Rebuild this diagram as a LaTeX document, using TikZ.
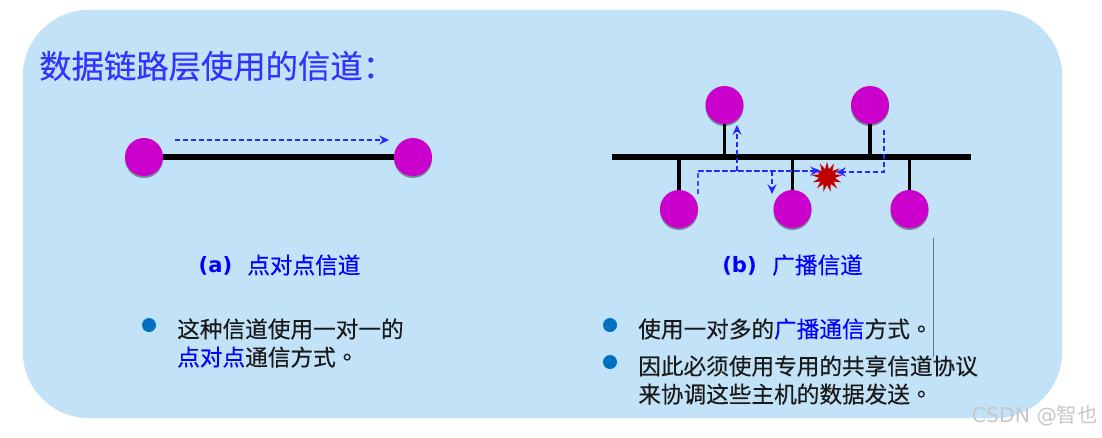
\documentclass[tikz,border=0pt]{standalone}
\usepackage{xcolor}
\usepackage{fontspec}
\usetikzlibrary{arrows.meta,positioning,shadows,shapes.geometric}
\setmainfont{DejaVu Sans}
\newfontfamily\cjk[FakeBold=0.25]{Noto Sans CJK SC}
\newfontfamily\cjkmark{Noto Sans CJK SC}
\newfontfamily\cjktc[FakeBold=0.25]{Noto Sans CJK TC}
\definecolor{panelblue}{HTML}{C2E2F8}
\definecolor{titleblue}{HTML}{3333FF}
\definecolor{linkblue}{HTML}{0000FF}
\definecolor{hostpink}{HTML}{CC00CC}
\definecolor{bulletblue}{HTML}{0070C0}
\definecolor{burstred}{HTML}{C00000}
\tikzset{
  host/.style={circle,fill=hostpink,minimum size=0.95cm,inner sep=0pt,drop shadow={shadow xshift=0pt,shadow yshift=-1.4pt,fill=black,opacity=0.4}},
  stem/.style={black,line width=2.3pt},
  busline/.style={black,line width=4.2pt},
  signal/.style={-{Stealth[length=7pt,width=6.5pt,inset=2.5pt]},linkblue!85,line width=0.9pt,dash pattern=on 3.5pt off 2.2pt},
  plainsignal/.style={linkblue!70,line width=0.9pt,dash pattern=on 3.5pt off 2.2pt},
  bullet/.style={circle,fill=bulletblue,minimum size=0.35cm,inner sep=0pt},
  bodytext/.style={anchor=west,align=left,inner sep=0pt,text=black!90,font=\cjk\fontsize{16.1}{20}\selectfont},
  captext/.style={inner sep=0pt,text=linkblue,font=\cjk\fontsize{16.1}{20}\selectfont}
}
\begin{document}
\begin{tikzpicture}[x=0.025cm,y=-0.025cm]
\useasboundingbox (0,0) rectangle (1102,437);
\node[rectangle,rounded corners=1.65cm,fill=panelblue,minimum width=25.975cm,minimum height=10.2cm,inner sep=0pt] (panel) at (542.5,214) {};
\node[anchor=west,inner sep=0pt,text=titleblue,font=\cjk\fontsize{23}{28}\selectfont] (title) at (39,66) {数据链路层使用的信道：};
% point to point
\node[host] (pa) at (144,157) {};
\node[host] (pb) at (413,157) {};
\draw[busline] (pa) -- (pb);
\coordinate (pfrom) at (175,140);
\coordinate (pto) at (389,140);
\draw[signal] (pfrom) -- (pto);
% broadcast
\coordinate (busl) at (612,157);
\coordinate (busr) at (971,157);
\node[host] (ta) at (724.5,105) {};
\node[host] (tb) at (870,105) {};
\node[host] (ba) at (679,209) {};
\node[host] (bb) at (792.5,209) {};
\node[host] (bc) at (909.5,209) {};
\draw[stem] (ta) -- (ta |- busl);
\draw[stem] (tb) -- (tb |- busl);
\draw[stem] (ba) -- (ba |- busl);
\draw[stem] (bb) -- (bb |- busl);
\draw[stem] (bc) -- (bc |- busl);
\draw[busline] (busl) -- (busr);
\node[star,star points=13,star point ratio=1.9,minimum size=0.76cm,inner sep=0pt,fill=burstred] (burst) at (827,177) {};
\coordinate (senda) at (698,194);
\coordinate (benda) at (698,171);
\coordinate (hita) at (820,171);
\coordinate (upa) at (737,125);
\coordinate (downa) at (772,194);
\coordinate (sendb) at (884,130);
\coordinate (bendb) at (884,172);
\coordinate (hitb) at (836,172);
\draw[plainsignal] (senda) -- (benda) -- (hita);
\draw[signal] (benda) -- (hita);
\draw[signal] (upa |- benda) -- (upa);
\draw[signal] (downa |- benda) -- (downa);
\draw[signal] (sendb) -- (bendb) -- (hitb);
% captions
\node[inner sep=0pt,text=linkblue,font=\bfseries\fontsize{15}{18}\selectfont] (capa) at (215.5,265.5) {(a)};
\node[captext,anchor=west] (capatext) at (247,265) {点对点信道};
\node[inner sep=0pt,text=linkblue,font=\bfseries\fontsize{15}{18}\selectfont] (capb) at (739.5,265.5) {(b)};
\node[captext,anchor=west] (capbtext) at (772,265) {广播信道};
% notes
\node[bullet] (nla) at (149,325) {};
\node[bodytext] (tla) at (177,343) {这种信道使用一对一的\\{\color{linkblue}点对点}通信方式{\cjktc 。}};
\node[bullet] (nra) at (610,325) {};
\node[bodytext] (tra) at (638,329) {使用一对多的{\color{linkblue}广播通信}方式{\cjktc 。}};
\node[bullet] (nrb) at (610,362) {};
\node[bodytext] (trb) at (638,380) {因此必须使用专用的共享信道协议\\来协调这些主机的数据发送{\cjktc 。}};
\coordinate (marka) at (933.5,238);
\coordinate (markb) at (933.5,357);
\draw[black!55,line width=0.6pt] (marka) -- (markb);
\node[anchor=east,inner sep=0pt,text=black!22,font=\fontsize{14.5}{16}\selectfont] (mark) at (1098,416) {CSDN @{\cjkmark 智也}};
\end{tikzpicture}
\end{document}
